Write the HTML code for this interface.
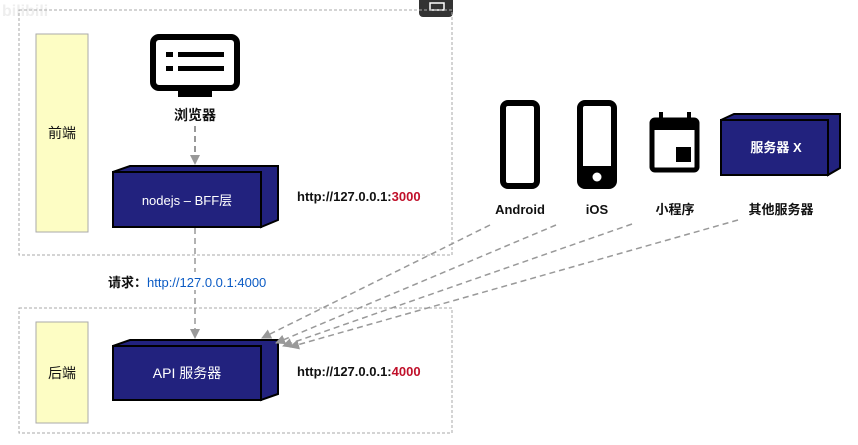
<!DOCTYPE html>
<html><head><meta charset="utf-8"><style>
body{margin:0;background:#fff;}
svg{display:block;font-family:"Liberation Sans","Noto Sans CJK SC",sans-serif;}
</style></head><body>
<svg width="858" height="445" viewBox="0 0 858 445">
<defs>
<marker id="ah" markerWidth="10" markerHeight="10" refX="9" refY="5" orient="auto" markerUnits="userSpaceOnUse"><path d="M0,0 L10,5 L0,10 Z" fill="#999"/></marker>
</defs>
<rect x="0" y="0" width="858" height="445" fill="#fff"/>
<text x="2" y="16" font-size="16" font-weight="bold" fill="#eee">bilibili</text>
<rect x="419" y="-4" width="34" height="21" rx="4" fill="#333"/>
<rect x="430" y="3" width="14" height="7" fill="none" stroke="#fff" stroke-width="1.5"/>
<rect x="19" y="10" width="433" height="245" fill="none" stroke="#aaa" stroke-dasharray="3,2"/>
<rect x="19" y="308" width="433" height="125" fill="none" stroke="#aaa" stroke-dasharray="3,2"/>
<rect x="36" y="34" width="52" height="198" fill="#fdfdc4" stroke="#aaa"/>
<rect x="36" y="322" width="52" height="101" fill="#fdfdc4" stroke="#aaa"/>
<text x="62" y="138" font-size="14" text-anchor="middle" fill="#111">前端</text>
<text x="62" y="378" font-size="14" text-anchor="middle" fill="#111">后端</text>
<rect x="153" y="37" width="84" height="51" rx="6" fill="#fff" stroke="#000" stroke-width="6"/>
<rect x="178" y="91" width="34" height="6" fill="#000"/>
<rect x="166" y="52" width="7" height="5" fill="#000"/><rect x="178" y="52" width="46" height="5" fill="#000"/>
<rect x="166" y="66" width="7" height="5" fill="#000"/><rect x="178" y="66" width="46" height="5" fill="#000"/>
<text x="195" y="120" font-size="14" font-weight="bold" text-anchor="middle" fill="#111">浏览器</text>
<line x1="195" y1="126" x2="195" y2="164" stroke="#777" stroke-width="1.5" stroke-dasharray="6,4" marker-end="url(#ah)"/>
<polygon points="113,172 130,166 278,166 278,220 261,227 261,172" fill="#22227e" stroke="#000" stroke-width="2"/>
<rect x="113" y="172" width="148" height="55" fill="#22227e" stroke="#000" stroke-width="2"/>
<text x="187" y="205" font-size="13" text-anchor="middle" fill="#fff">nodejs – BFF层</text>
<text x="297" y="201" font-size="13" font-weight="bold" fill="#111">http://127.0.0.1:<tspan fill="#c0102a">3000</tspan></text>
<line x1="195" y1="228" x2="195" y2="338" stroke="#999" stroke-width="1.5" stroke-dasharray="6,4" marker-end="url(#ah)"/>
<rect x="106" y="272" width="180" height="18" fill="#fff"/>
<text x="108" y="287" font-size="13" font-weight="bold" fill="#111">请求：<tspan font-weight="normal" fill="#0b5bc4">http://127.0.0.1:4000</tspan></text>
<polygon points="113,346 130,340 278,340 278,394 261,400 261,346" fill="#22227e" stroke="#000" stroke-width="2"/>
<rect x="113" y="346" width="148" height="54" fill="#22227e" stroke="#000" stroke-width="2"/>
<text x="187" y="378" font-size="14" text-anchor="middle" fill="#fff">API 服务器</text>
<text x="297" y="376" font-size="13" font-weight="bold" fill="#111">http://127.0.0.1:<tspan fill="#c0102a">4000</tspan></text>
<g stroke="#999" stroke-width="1.5" stroke-dasharray="6,4" fill="none">
<line x1="490" y1="225" x2="262" y2="338" marker-end="url(#ah)"/>
<line x1="556" y1="225" x2="276" y2="343" marker-end="url(#ah)"/>
<line x1="632" y1="224" x2="283" y2="346" marker-end="url(#ah)"/>
<line x1="738" y1="220" x2="290" y2="347" marker-end="url(#ah)"/>
</g>
<rect x="503" y="103" width="34" height="83" rx="5" fill="#fff" stroke="#000" stroke-width="6"/>
<rect x="580" y="103" width="34" height="83" rx="5" fill="#fff" stroke="#000" stroke-width="6"/>
<rect x="580" y="166" width="34" height="20" fill="#000"/>
<circle cx="597" cy="177" r="4.5" fill="#fff"/>
<rect x="652" y="120" width="45" height="50" rx="3" fill="#fff" stroke="#000" stroke-width="5"/>
<rect x="652" y="120" width="45" height="10" fill="#000"/>
<rect x="659" y="112" width="4" height="10" fill="#000"/><rect x="687" y="112" width="4" height="10" fill="#000"/>
<rect x="676" y="147" width="15" height="15" fill="#000"/>
<polygon points="721,120 734,114 840,114 840,168 828,175 828,120" fill="#22227e" stroke="#000" stroke-width="2"/>
<rect x="721" y="120" width="107" height="55" fill="#22227e" stroke="#000" stroke-width="2"/>
<text x="776" y="152" font-size="13" font-weight="bold" text-anchor="middle" fill="#fff">服务器 X</text>
<g font-size="13" font-weight="bold" text-anchor="middle" fill="#111">
<text x="520" y="214">Android</text>
<text x="597" y="214">iOS</text>
<text x="675" y="214">小程序</text>
<text x="781" y="214">其他服务器</text>
</g>
</svg>
</body></html>
